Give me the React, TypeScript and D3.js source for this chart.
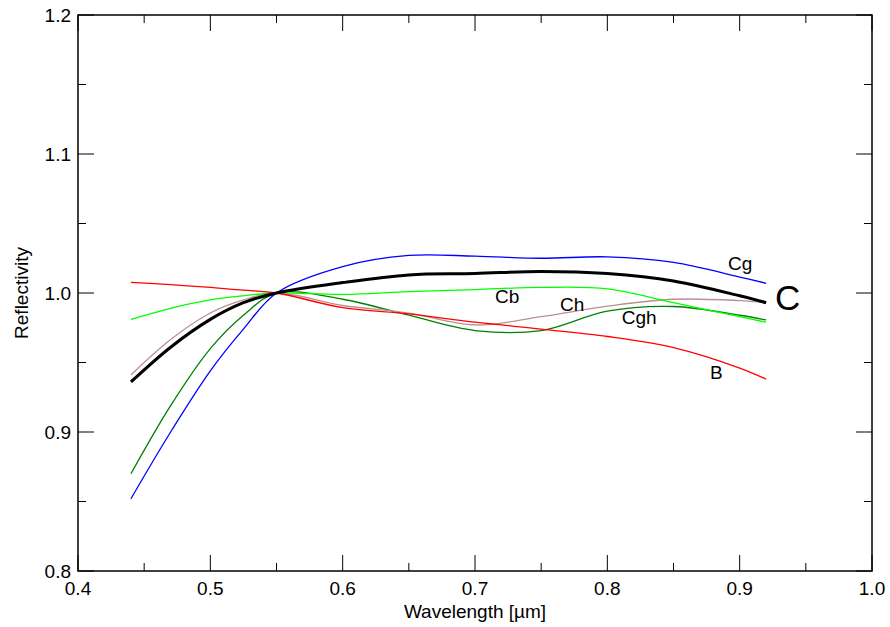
import React, { useEffect, useRef } from 'react';
import * as d3 from 'd3';

// wavelengths (um) where curves were sampled
const wavelengths = [0.44, 0.47, 0.5, 0.525, 0.55, 0.6, 0.65, 0.7, 0.75, 0.8, 0.85, 0.9, 0.92];

const seriesCg = [0.852, 0.9, 0.944, 0.974, 1.0, 1.019, 1.027, 1.0265, 1.025, 1.026, 1.022, 1.0115, 1.007];
const seriesC = [0.936, 0.961, 0.981, 0.993, 1.0, 1.0075, 1.013, 1.014, 1.0155, 1.014, 1.0087, 0.998, 0.993];
const seriesCb = [0.981, 0.989, 0.995, 0.998, 1.0, 0.999, 1.001, 1.0025, 1.004, 1.003, 0.993, 0.983, 0.979];
const seriesCh = [0.941, 0.9665, 0.9856, 0.995, 1.0, 0.991, 0.9855, 0.977, 0.983, 0.9905, 0.9955, 0.9945, 0.993];
const seriesCgh = [0.87, 0.919, 0.96, 0.984, 1.0, 0.9955, 0.984, 0.973, 0.973, 0.987, 0.9903, 0.984, 0.9806];
const seriesB = [1.0077, 1.006, 1.004, 1.002, 1.0, 0.9895, 0.985, 0.979, 0.974, 0.9687, 0.9607, 0.946, 0.938];

const xTicks = [0.4, 0.5, 0.6, 0.7, 0.8, 0.9, 1.0];
const yTicks = [0.8, 0.9, 1.0, 1.1, 1.2];

const curves = [
  { name: 'Cgh', values: seriesCgh, color: '#008000', width: 1.3 },
  { name: 'Ch', values: seriesCh, color: '#bc8f8f', width: 1.3 },
  { name: 'Cb', values: seriesCb, color: '#00ff00', width: 1.3 },
  { name: 'B', values: seriesB, color: '#ff0000', width: 1.3 },
  { name: 'Cg', values: seriesCg, color: '#0000ff', width: 1.3 },
  { name: 'C', values: seriesC, color: '#000000', width: 3 },
];

// label anchors in data units
const labels = [
  { text: 'Cg', w: 0.8912, r: 1.0165, size: 19 },
  { text: 'Cb', w: 0.7151, r: 0.9926, size: 19 },
  { text: 'Ch', w: 0.7642, r: 0.987, size: 19 },
  { text: 'Cgh', w: 0.8109, r: 0.9777, size: 19 },
  { text: 'B', w: 0.8776, r: 0.9381, size: 19 },
  { text: 'C', w: 0.9267, r: 0.9878, size: 35 },
];

const W = 890;
const H = 627;
const margin = { left: 78, right: 18, top: 15, bottom: 56 };
const font = '"Liberation Sans", Arial, Helvetica, sans-serif';

export default function App() {
  const svgRef = useRef<SVGSVGElement>(null);

  useEffect(() => {
    const svg = d3.select(svgRef.current);
    svg.selectAll('*').remove();

    const x = d3.scaleLinear().domain([0.4, 1.0]).range([margin.left, W - margin.right]);
    const y = d3.scaleLinear().domain([0.8, 1.2]).range([H - margin.bottom, margin.top]);
    const [x0, x1] = x.range();
    const [y0, y1] = y.range();

    // curves
    const line = d3
      .line<number>()
      .x((_, i) => x(wavelengths[i]))
      .y((d) => y(d))
      .curve(d3.curveCatmullRom.alpha(0.5));

    svg
      .selectAll('path.curve')
      .data(curves)
      .enter()
      .append('path')
      .attr('class', 'curve')
      .attr('d', (d) => line(d.values))
      .attr('fill', 'none')
      .attr('stroke', (d) => d.color)
      .attr('stroke-width', (d) => d.width)
      .attr('stroke-linejoin', 'round');

    // frame
    svg
      .append('rect')
      .attr('x', x0)
      .attr('y', y1)
      .attr('width', x1 - x0)
      .attr('height', y0 - y1)
      .attr('fill', 'none')
      .attr('stroke', 'black')
      .attr('stroke-width', 1.5);

    const ticks = svg.append('g').attr('stroke', 'black').attr('stroke-width', 1);
    const xMinor = d3.range(0.4, 1.0001, 0.05);
    xMinor.forEach((v, i) => {
      const len = i % 2 === 0 ? 16 : 8;
      ticks.append('line').attr('x1', x(v)).attr('x2', x(v)).attr('y1', y0).attr('y2', y0 - len);
      ticks.append('line').attr('x1', x(v)).attr('x2', x(v)).attr('y1', y1).attr('y2', y1 + len);
    });
    const yMinor = d3.range(0.8, 1.2001, 0.05);
    yMinor.forEach((v, i) => {
      const len = i % 2 === 0 ? 16 : 8;
      ticks.append('line').attr('x1', x0).attr('x2', x0 + len).attr('y1', y(v)).attr('y2', y(v));
      ticks.append('line').attr('x1', x1).attr('x2', x1 - len).attr('y1', y(v)).attr('y2', y(v));
    });

    // tick labels
    svg
      .selectAll('text.xt')
      .data(xTicks)
      .enter()
      .append('text')
      .attr('class', 'xt')
      .attr('x', (d) => x(d))
      .attr('y', y0 + 24)
      .attr('text-anchor', 'middle')
      .attr('font-family', font)
      .attr('font-size', 19)
      .text((d) => d3.format('.1f')(d));

    svg
      .selectAll('text.yt')
      .data(yTicks)
      .enter()
      .append('text')
      .attr('class', 'yt')
      .attr('x', x0 - 7)
      .attr('y', (d) => y(d) + 7)
      .attr('text-anchor', 'end')
      .attr('font-family', font)
      .attr('font-size', 19)
      .text((d) => d3.format('.1f')(d));

    // axis titles
    svg
      .append('text')
      .attr('x', (x0 + x1) / 2)
      .attr('y', 618)
      .attr('text-anchor', 'middle')
      .attr('font-family', font)
      .attr('font-size', 19)
      .text('Wavelength [\u00b5m]');

    svg
      .append('text')
      .attr('transform', `translate(28, ${(y0 + y1) / 2}) rotate(-90)`)
      .attr('text-anchor', 'middle')
      .attr('font-family', font)
      .attr('font-size', 19)
      .text('Reflectivity');

    // curve labels
    svg
      .selectAll('text.lab')
      .data(labels)
      .enter()
      .append('text')
      .attr('class', 'lab')
      .attr('x', (d) => x(d.w))
      .attr('y', (d) => y(d.r))
      .attr('font-family', font)
      .attr('font-size', (d) => d.size)
      .text((d) => d.text);
  }, []);

  return (
    <svg
      ref={svgRef}
      width={W}
      height={H}
      style={{ position: 'absolute', left: 0, top: 0, background: 'white' }}
    />
  );
}
